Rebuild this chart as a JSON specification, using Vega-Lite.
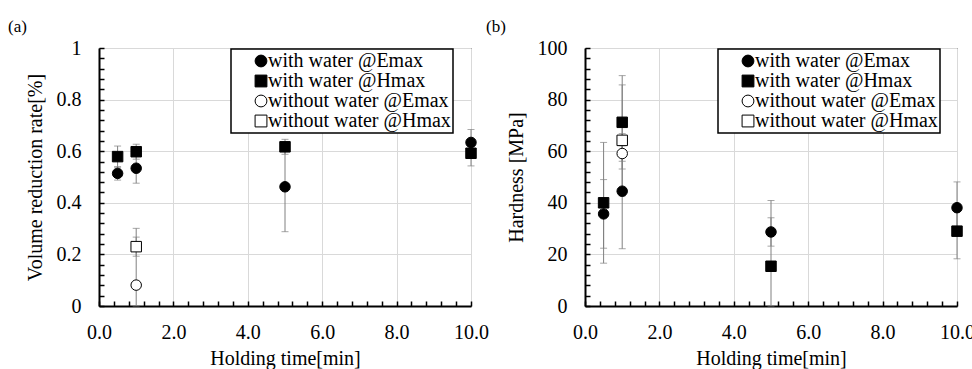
{
  "$schema": "https://vega.github.io/schema/vega-lite/v6.json",
  "padding": {"left": 7, "top": 17, "right": 0, "bottom": 0},
  "bounds": "flush",
  "spacing": 114,
  "datasets": {
    "a": [
      {"t": 0.5, "v": 0.514, "e": 0.026, "s": "with water @Emax"},
      {"t": 1, "v": 0.534, "e": 0.058, "s": "with water @Emax"},
      {"t": 5, "v": 0.462, "e": 0.174, "s": "with water @Emax"},
      {"t": 10, "v": 0.634, "e": 0.05, "s": "with water @Emax"},
      {"t": 0.5, "v": 0.579, "e": 0.041, "s": "with water @Hmax"},
      {"t": 1, "v": 0.598, "e": 0.029, "s": "with water @Hmax"},
      {"t": 5, "v": 0.617, "e": 0.029, "s": "with water @Hmax"},
      {"t": 10, "v": 0.592, "e": 0.049, "s": "with water @Hmax"},
      {"t": 1, "v": 0.081, "e": 0.22, "s": "without water @Emax"},
      {"t": 1, "v": 0.23, "e": 0.037, "s": "without water @Hmax"}
    ],
    "b": [
      {"t": 0.5, "v": 35.7, "e": 13.3, "s": "with water @Emax"},
      {"t": 1, "v": 44.5, "e": 22.3, "s": "with water @Emax"},
      {"t": 5, "v": 28.7, "e": 5.5, "s": "with water @Emax"},
      {"t": 10, "v": 38.1, "e": 10, "s": "with water @Emax"},
      {"t": 0.5, "v": 40.0, "e": 23.4, "s": "with water @Hmax"},
      {"t": 1, "v": 71.2, "e": 18.1, "s": "with water @Hmax"},
      {"t": 5, "v": 15.4, "e": 25.5, "s": "with water @Hmax"},
      {"t": 10, "v": 29.0, "e": 10.7, "s": "with water @Hmax"},
      {"t": 1, "v": 59.1, "e": 3, "s": "without water @Emax"},
      {"t": 1, "v": 64.2, "e": 21.5, "s": "without water @Hmax"}
    ]
  },
  "resolve": {"scale": {"shape": "independent", "fill": "independent", "stroke": "independent", "x": "independent", "y": "independent"}},
  "hconcat": [
    {
      "width": 372,
      "height": 258,
      "title": {"text": "(a)", "dx": -91},
      "data": {"name": "a"},
      "encoding": {
        "x": {
          "field": "t", "type": "quantitative",
          "scale": {"domain": [0, 10], "nice": false, "zero": false},
          "axis": {
            "title": "Holding time[min]",
            "values": [0, 0.4, 0.8, 1.2, 1.6, 2, 2.4, 2.8, 3.2, 3.6, 4, 4.4, 4.8, 5.2, 5.6, 6, 6.4, 6.8, 7.2, 7.6, 8, 8.4, 8.8, 9.2, 9.6, 10],
            "labelExpr": "abs(datum.value/2-round(datum.value/2))<1e-6 ? format(datum.value,'.1f') : ''",
            "gridOpacity": {"condition": {"test": "abs(datum.value/2-round(datum.value/2))<1e-6", "value": 1}, "value": 0}
          }
        },
        "y": {
          "field": "v", "type": "quantitative",
          "scale": {"domain": [0, 1], "nice": false, "clamp": true},
          "axis": {
            "title": "Volume reduction rate[%]",
            "values": [0, 0.04, 0.08, 0.12, 0.16, 0.2, 0.24, 0.28, 0.32, 0.36, 0.4, 0.44, 0.48, 0.52, 0.56, 0.6, 0.64, 0.68, 0.72, 0.76, 0.8, 0.84, 0.88, 0.92, 0.96, 1],
            "labelExpr": "abs(datum.value*5-round(datum.value*5))<1e-6 ? format(datum.value,'~g') : ''",
            "gridOpacity": {"condition": {"test": "abs(datum.value*5-round(datum.value*5))<1e-6", "value": 1}, "value": 0}
          }
        }
      },
      "layer": [
        {
          "mark": {"type": "errorbar", "color": "#808080", "ticks": {"size": 7, "color": "#808080"}, "clip": false},
          "encoding": {"yError": {"field": "e"}}
        },
        {
          "mark": {"type": "point", "filled": true, "size": 110, "strokeWidth": 1, "opacity": 1, "clip": false},
          "encoding": {
            "shape": {"field": "s", "type": "nominal", "scale": {"domain": ["with water @Emax", "with water @Hmax", "without water @Emax", "without water @Hmax"], "range": ["circle", "square", "circle", "square"]}, "legend": {"title": null, "orient": "none", "legendX": 132, "legendY": 1}},
            "fill": {"field": "s", "type": "nominal", "scale": {"domain": ["with water @Emax", "with water @Hmax", "without water @Emax", "without water @Hmax"], "range": ["black", "black", "white", "white"]}, "legend": {"title": null, "orient": "none", "legendX": 132, "legendY": 1}},
            "stroke": {"field": "s", "type": "nominal", "scale": {"domain": ["with water @Emax", "with water @Hmax", "without water @Emax", "without water @Hmax"], "range": ["black", "black", "black", "black"]}, "legend": {"title": null, "orient": "none", "legendX": 132, "legendY": 1}}
          }
        }
      ]
    },
    {
      "width": 372,
      "height": 258,
      "title": {"text": "(b)", "dx": -99},
      "data": {"name": "b"},
      "encoding": {
        "x": {
          "field": "t", "type": "quantitative",
          "scale": {"domain": [0, 10], "nice": false, "zero": false},
          "axis": {
            "title": "Holding time[min]",
            "values": [0, 0.4, 0.8, 1.2, 1.6, 2, 2.4, 2.8, 3.2, 3.6, 4, 4.4, 4.8, 5.2, 5.6, 6, 6.4, 6.8, 7.2, 7.6, 8, 8.4, 8.8, 9.2, 9.6, 10],
            "labelExpr": "abs(datum.value/2-round(datum.value/2))<1e-6 ? format(datum.value,'.1f') : ''",
            "gridOpacity": {"condition": {"test": "abs(datum.value/2-round(datum.value/2))<1e-6", "value": 1}, "value": 0}
          }
        },
        "y": {
          "field": "v", "type": "quantitative",
          "scale": {"domain": [0, 100], "nice": false, "clamp": true},
          "axis": {
            "title": "Hardness [MPa]",
            "values": [0, 4, 8, 12, 16, 20, 24, 28, 32, 36, 40, 44, 48, 52, 56, 60, 64, 68, 72, 76, 80, 84, 88, 92, 96, 100],
            "labelExpr": "datum.value % 20 == 0 ? format(datum.value,'d') : ''",
            "gridOpacity": {"condition": {"test": "datum.value % 20 == 0", "value": 1}, "value": 0}
          }
        }
      },
      "layer": [
        {
          "mark": {"type": "errorbar", "color": "#808080", "ticks": {"size": 7, "color": "#808080"}, "clip": false},
          "encoding": {"yError": {"field": "e"}}
        },
        {
          "mark": {"type": "point", "filled": true, "size": 110, "strokeWidth": 1, "opacity": 1, "clip": false},
          "encoding": {
            "shape": {"field": "s", "type": "nominal", "scale": {"domain": ["with water @Emax", "with water @Hmax", "without water @Emax", "without water @Hmax"], "range": ["circle", "square", "circle", "square"]}, "legend": {"title": null, "orient": "none", "legendX": 133, "legendY": 1}},
            "fill": {"field": "s", "type": "nominal", "scale": {"domain": ["with water @Emax", "with water @Hmax", "without water @Emax", "without water @Hmax"], "range": ["black", "black", "white", "white"]}, "legend": {"title": null, "orient": "none", "legendX": 133, "legendY": 1}},
            "stroke": {"field": "s", "type": "nominal", "scale": {"domain": ["with water @Emax", "with water @Hmax", "without water @Emax", "without water @Hmax"], "range": ["black", "black", "black", "black"]}, "legend": {"title": null, "orient": "none", "legendX": 133, "legendY": 1}}
          }
        }
      ]
    }
  ],
  "config": {
    "font": "Liberation Serif",
    "background": "white",
    "view": {"stroke": "black", "strokeWidth": 1},
    "title": {"font": "Liberation Serif", "fontSize": 17, "fontWeight": "normal", "color": "black", "anchor": "start", "frame": "group", "offset": 2},
    "axis": {
      "domainColor": "black", "domainWidth": 2,
      "tickColor": "black", "tickWidth": 1.5, "tickSize": -5,
      "labelFont": "Liberation Serif", "labelFontSize": 20, "labelColor": "black",
      "labelOverlap": false, "labelFlush": false,
      "titleFont": "Liberation Serif", "titleFontSize": 20, "titleFontWeight": "normal", "titleColor": "black",
      "gridColor": "#d9d9d9", "gridWidth": 1
    },
    "axisX": {"labelPadding": 21, "titlePadding": 6},
    "axisY": {"labelPadding": 23, "titlePadding": 11},
    "legend": {
      "fillColor": "white", "strokeColor": "black", "strokeWidth": 1.5,
      "padding": 2, "symbolOffset": 18, "rowPadding": -2, "labelOffset": -3,
      "labelFont": "Liberation Serif", "labelFontSize": 20, "labelColor": "black", "labelLimit": 400,
      "symbolSize": 140, "symbolStrokeWidth": 1
    }
  }
}
